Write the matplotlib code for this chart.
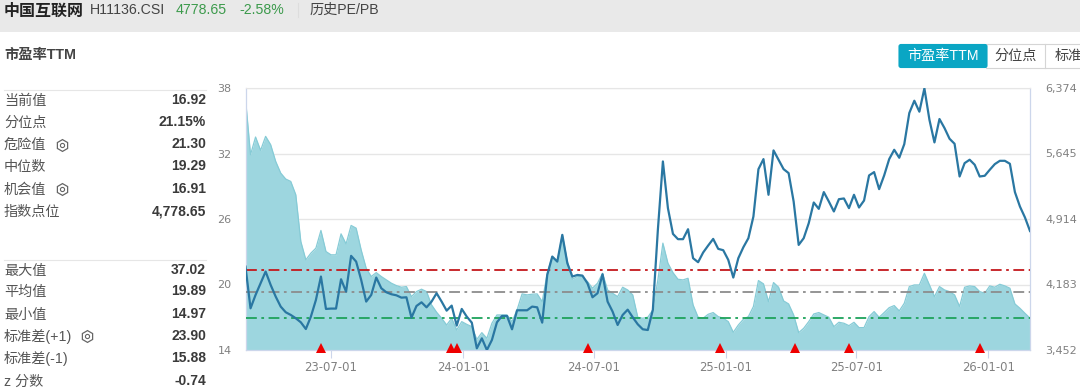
import matplotlib
matplotlib.use('Agg')
import matplotlib.pyplot as plt
import matplotlib.dates as mdates
from matplotlib.patches import Rectangle, FancyBboxPatch
import numpy as np
import pandas as pd

# weekly PE TTM
pe_ttm = [
    37.02, 31.89, 33.51, 32.29, 33.57, 32.81, 31.28, 30.21, 29.66, 29.44,
    28.22, 23.94, 22.26, 22.87, 23.33, 24.95, 23.02, 22.72, 22.72, 24.64,
    23.72, 25.41, 25.16, 23.17, 21.49, 20.73, 21.09, 20.73, 20.42, 20.12,
    19.90, 19.75, 19.81, 18.89, 19.35, 19.57, 19.35, 18.13, 17.46, 16.91,
    16.29, 16.91, 15.83, 16.60, 16.35, 16.14, 14.97, 15.59, 15.07, 16.45,
    17.21, 17.21, 17.21, 16.60, 17.67, 19.14, 19.05, 19.11, 19.14, 18.43,
    21.03, 22.56, 22.10, 24.55, 22.10, 20.48, 20.73, 20.73, 20.27, 19.66,
    20.12, 21.03, 19.50, 19.20, 18.89, 19.75, 19.50, 19.05, 17.00, 16.91,
    17.00, 17.67, 20.42, 23.79, 21.95, 21.09, 20.48, 20.42, 20.57, 18.13,
    17.00, 16.91, 17.27, 17.43, 17.06, 16.91, 16.60, 15.62, 16.29, 16.81,
    17.06, 17.98, 20.36, 20.06, 18.43, 20.18, 19.75, 18.50, 18.22, 17.21,
    15.59, 15.99, 16.60, 17.30, 17.43, 17.21, 17.00, 16.14, 16.54, 16.45,
    16.23, 16.54, 16.05, 16.05, 17.06, 17.52, 17.00, 17.43, 17.88, 18.07,
    17.58, 18.28, 19.81, 19.96, 19.96, 21.03, 19.96, 18.89, 19.81, 19.50,
    19.35, 19.05, 17.98, 19.75, 19.87, 19.81, 19.35, 19.20, 19.87, 19.75,
    20.02, 19.87, 19.66, 18.22, 17.82, 17.36, 16.92,
]

# weekly index level
index_level = [
    4382, 3917, 4066, 4196, 4327, 4178, 4048, 3936, 3873, 3843,
    3806, 3761, 3686, 3824, 4010, 4271, 3910, 3914, 3914, 4241,
    4103, 4502, 4438, 4234, 3992, 4066, 4260, 4141, 4096, 4074,
    4062, 4036, 4040, 3813, 3943, 3984, 3928, 3992, 4085, 3992,
    3891, 3947, 3724, 3910, 3824, 3757, 3471, 3582, 3452, 3564,
    3761, 3832, 3832, 3683, 3895, 3895, 3895, 3936, 3928, 3757,
    4289, 4494, 4438, 4736, 4420, 4271, 4289, 4282, 4196, 4040,
    4085, 4297, 3992, 3880, 3731, 3843, 3902, 3817, 3739, 3683,
    3675, 3899, 4792, 5555, 5034, 4747, 4688, 4688, 4799, 4476,
    4431, 4539, 4617, 4691, 4580, 4565, 4457, 4260, 4476, 4598,
    4699, 4941, 5469, 5581, 5183, 5678, 5574, 5469, 5425, 5108,
    4624, 4699, 4866, 5097, 5026, 5213, 5108, 4997, 5134, 5142,
    5034, 5183, 5041, 5119, 5399, 5436, 5246, 5399, 5581, 5685,
    5596, 5748, 6095, 6232, 6110, 6370, 6020, 5767, 6028, 5927,
    5808, 5752, 5387, 5536, 5574, 5518, 5387, 5395, 5462, 5525,
    5562, 5562, 5529, 5213, 5052, 4930, 4779,
]

start_date = '2023-03-04'
signal_dates = ['2023-06-17', '2023-12-15', '2023-12-23', '2024-06-23',
                '2024-12-23', '2025-04-07', '2025-06-21', '2025-12-20']
x_ticks = ['2023-07-01', '2024-01-01', '2024-07-01', '2025-01-01', '2025-07-01', '2026-01-01']
pe_ticks = [14, 20, 26, 32, 38]
index_ticks = [3452, 4183, 4914, 5645, 6374]

danger_value = 21.30
median_value = 19.29
chance_value = 16.91

stats_top = [('当前值', '16.92'), ('分位点', '21.15%'), ('危险值', '21.30'),
             ('中位数', '19.29'), ('机会值', '16.91'), ('指数点位', '4,778.65')]
stats_bottom = [('最大值', '37.02'), ('平均值', '19.89'), ('最小值', '14.97'),
                ('标准差(+1)', '23.90'), ('标准差(-1)', '15.88'), ('z 分数', '-0.74')]

W, H = 1080, 388
LATIN_CJK = ['Liberation Sans', 'Noto Sans CJK SC']
plt.rcParams['font.family'] = LATIN_CJK

fig = plt.figure(figsize=(W / 100, H / 100), dpi=100, facecolor='white')

# page layer in pixel coordinates, for header, side table and buttons
page = fig.add_axes([0, 0, 1, 1])
page.set_xlim(0, W)
page.set_ylim(H, 0)
page.axis('off')

page.add_patch(Rectangle((0, 0), W, 32, color='#e9e9e9', lw=0))
page.text(4, 11, '中国互联网', fontsize=11.5, weight='bold', color='#222222', va='center')
page.text(90, 10, 'H11136.CSI', fontsize=10.2, color='#444444', va='center')
page.text(176, 10, '4778.65', fontsize=10.2, color='#3c9a4c', va='center')
page.text(239, 10, '-2.58%', fontsize=10.2, color='#3c9a4c', va='center')
page.plot([298, 298], [3, 17], color='#dddddd', lw=0.8)
page.text(309, 10, '历史PE/PB', fontsize=10.2, color='#444444', va='center')
page.text(4, 55, '市盈率TTM', fontsize=10.3, weight='bold', color='#444444', va='center')

# side table
page.plot([4, 206], [89.5, 89.5], color='#e6e6e6', lw=0.8)
page.plot([4, 206], [259.5, 259.5], color='#e6e6e6', lw=0.8)
rows_top = [100, 122, 144, 166, 189, 211]
rows_bottom = [270, 291, 314, 336, 358, 381]
for (name, val), y in zip(stats_top + stats_bottom, rows_top + rows_bottom):
    page.text(4, y + 1, name, fontsize=10.2, color='#555555', va='center')
    page.text(206, y, val, fontsize=10, weight='bold', color='#3a3a3a', va='center', ha='right')

# small gear icons next to the editable values
for gx, gy in [(62, 145), (62, 189), (87, 336)]:
    page.plot(gx, gy, marker='h', ms=8.5, mfc='none', mec='#666666', mew=0.9)
    page.plot(gx, gy, marker='o', ms=3, mfc='none', mec='#666666', mew=0.8)

# buttons top right
page.add_patch(Rectangle((986, 44), 110, 24, fc='white', ec='#d5d5d5', lw=0.8))
page.plot([1045, 1045], [44, 68], color='#d5d5d5', lw=0.8)
page.add_patch(FancyBboxPatch((899, 44.5), 88, 23, boxstyle='round,pad=0,rounding_size=2',
                              fc='#0aa6c4', ec='#0aa6c4', lw=0.8))
page.text(943, 56, '市盈率TTM', fontsize=10.2, color='white', va='center', ha='center')
page.text(1016, 56, '分位点', fontsize=10.2, color='#444444', va='center', ha='center')
page.text(1055, 56, '标准差', fontsize=10.2, color='#444444', va='center', ha='left', clip_on=True)

# main chart
dates = pd.date_range(start_date, periods=len(pe_ttm), freq='7D')
left, right, top, bottom = 245.5, 1030, 88, 350
ax = fig.add_axes([left / W, 1 - bottom / H, (right - left) / W, (bottom - top) / H])
ax.patch.set_alpha(0)
ax.set_xlim(dates[0], dates[-1])
ax.set_ylim(14, 38)

ax.fill_between(dates, 14, pe_ttm, color='#9dd6df', lw=0, zorder=2)
ax.plot(dates, pe_ttm, color='#86cbd6', lw=0.9, zorder=2.5)
ax.axhline(danger_value, color='#c4181c', lw=1.3, ls=(0, (6, 2.5, 1.5, 2.5)), zorder=3)
ax.axhline(median_value, color='#8c8c8c', lw=1.3, ls=(0, (6, 2.5, 1.5, 2.5)), zorder=3)
ax.axhline(chance_value, color='#1ea35c', lw=1.3, ls=(0, (6, 2.5, 1.5, 2.5)), zorder=3)

ax.set_yticks(pe_ticks)
ax.set_yticklabels([str(v) for v in pe_ticks], fontfamily='DejaVu Sans', fontsize=8, color='#808080')
ax.tick_params(axis='y', length=0, pad=10)
ax.grid(axis='y', color='#e6e6e6', lw=1, zorder=0)
ax.set_axisbelow(True)

ax.set_xticks([pd.Timestamp(d) for d in x_ticks])
ax.xaxis.set_major_formatter(mdates.DateFormatter('%y-%m-%d'))
ax.tick_params(axis='x', length=6, width=0.8, color='#ccd6eb', pad=2, labelsize=8.4, labelcolor='#808080')
for lab in ax.get_xticklabels():
    lab.set_fontfamily('DejaVu Sans')

ax.spines['top'].set_color('#e6e6e6')
for side in ['left', 'right', 'bottom']:
    ax.spines[side].set_color('#ccd6eb')
    ax.spines[side].set_linewidth(0.9)

# signal triangles sit on the baseline
sig = [pd.Timestamp(d) for d in signal_dates]
ax.plot(sig, [14.14] * len(sig), ls='none', marker='^', ms=7.2, color='#ee0000',
        mew=0, clip_on=False, zorder=6)

ax2 = ax.twinx()
ax2.set_ylim(3452, 6374)
ax2.plot(dates, index_level, color='#2a77a2', lw=1.6, zorder=5, solid_joinstyle='round')
ax2.set_yticks(index_ticks)
ax2.set_yticklabels([f'{v:,}' for v in index_ticks], fontfamily='DejaVu Sans', fontsize=8, color='#808080')
ax2.tick_params(axis='y', length=0, pad=11)
for side in ax2.spines:
    ax2.spines[side].set_visible(False)

fig.savefig('out.png', dpi=100)
